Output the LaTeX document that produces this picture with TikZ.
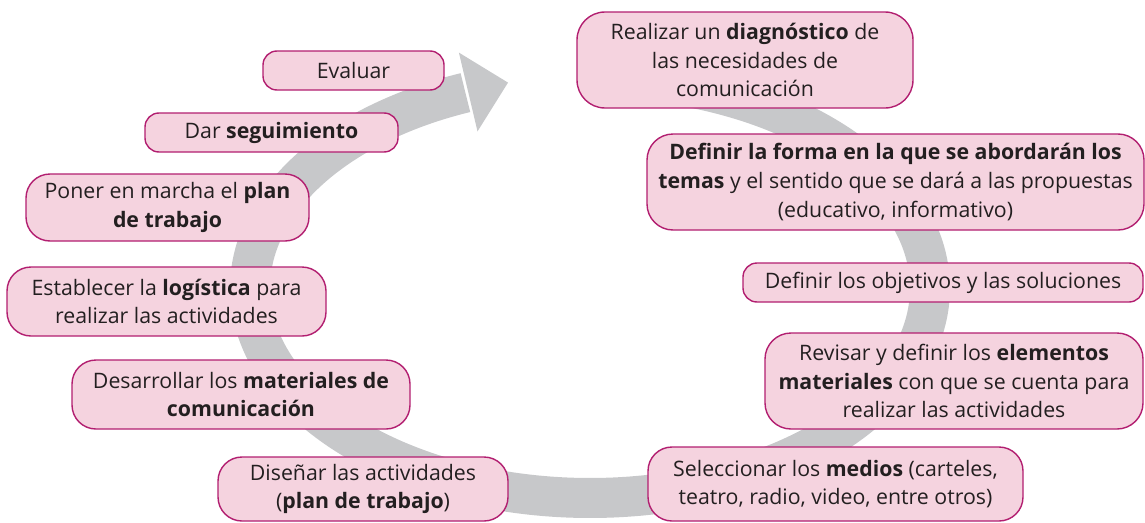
\documentclass[tikz,border=0pt]{standalone}
\usepackage{fontspec}
\setmainfont{Open Sans}
\definecolor{boxfill}{RGB}{245,211,223}
\definecolor{boxline}{RGB}{178,30,112}
\definecolor{bandgray}{RGB}{199,200,202}
\definecolor{txt}{RGB}{35,31,32}
\begin{document}
\begin{tikzpicture}[x=1pt,y=-1pt,
  stepbox/.style={draw=boxline, fill=boxfill, line width=1.4pt, rounded corners=#1,
    inner sep=0pt, align=center, text=txt, font=\fontsize{21.3}{28.8}\selectfont},
  stepbox/.default=24pt]
\useasboundingbox (0,0) rectangle (1145,522);
% gray circular band
\draw[bandgray, line width=40pt] plot[domain=0:323.5, samples=200, smooth]
  ({590+340*cos(75-\x)},{288-210*sin(75-\x)});
\fill[bandgray] (458.9,52.6) -- (508,82.6) -- (477.5,131.4) -- cycle;
% boxes
\node[stepbox=28pt, minimum width=336pt, minimum height=96pt] (diag) at (745,60)
  {Realizar un \textbf{diagnóstico} de\\las necesidades de\\comunicación};
\node[stepbox=26pt, minimum width=497pt, minimum height=96pt] (forma) at (895.5,182)
  {\textbf{Definir la forma en la que se abordarán los}\\\textbf{temas} y el sentido que se dará a las propuestas\\(educativo, informativo)};
\node[stepbox=14pt, minimum width=400pt, minimum height=39pt] (obj) at (943,282.5)
  {Definir los objetivos y las soluciones};
\node[stepbox=26pt, minimum width=378pt, minimum height=96pt] (rev) at (954,381)
  {Revisar y definir los \textbf{elementos}\\\textbf{materiales} con que se cuenta para\\realizar las actividades};
\node[stepbox=24pt, minimum width=375pt, minimum height=74pt] (sel) at (835.5,484)
  {Seleccionar los \textbf{medios} (carteles,\\teatro, radio, video, entre otros)};
\node[stepbox=24pt, minimum width=290pt, minimum height=64pt] (dis) at (363,489)
  {Diseñar las actividades\\(\textbf{plan de trabajo})};
\node[stepbox=24pt, minimum width=338pt, minimum height=69pt] (des) at (241,394.5)
  {Desarrollar los \textbf{materiales de}\\\textbf{comunicación}};
\node[stepbox=24pt, minimum width=319pt, minimum height=69pt] (log) at (166.5,301.5)
  {Establecer la \textbf{logística} para\\realizar las actividades};
\node[stepbox=24pt, minimum width=283pt, minimum height=67pt] (pon) at (167.5,207.5)
  {Poner en marcha el \textbf{plan}\\\textbf{de trabajo}};
\node[stepbox=14pt, minimum width=253pt, minimum height=39pt] (seg) at (271.5,132.5)
  {Dar \textbf{seguimiento}};
\node[stepbox=14pt, minimum width=181pt, minimum height=39pt] (eva) at (353.5,70.5)
  {Evaluar};
\end{tikzpicture}
\end{document}
